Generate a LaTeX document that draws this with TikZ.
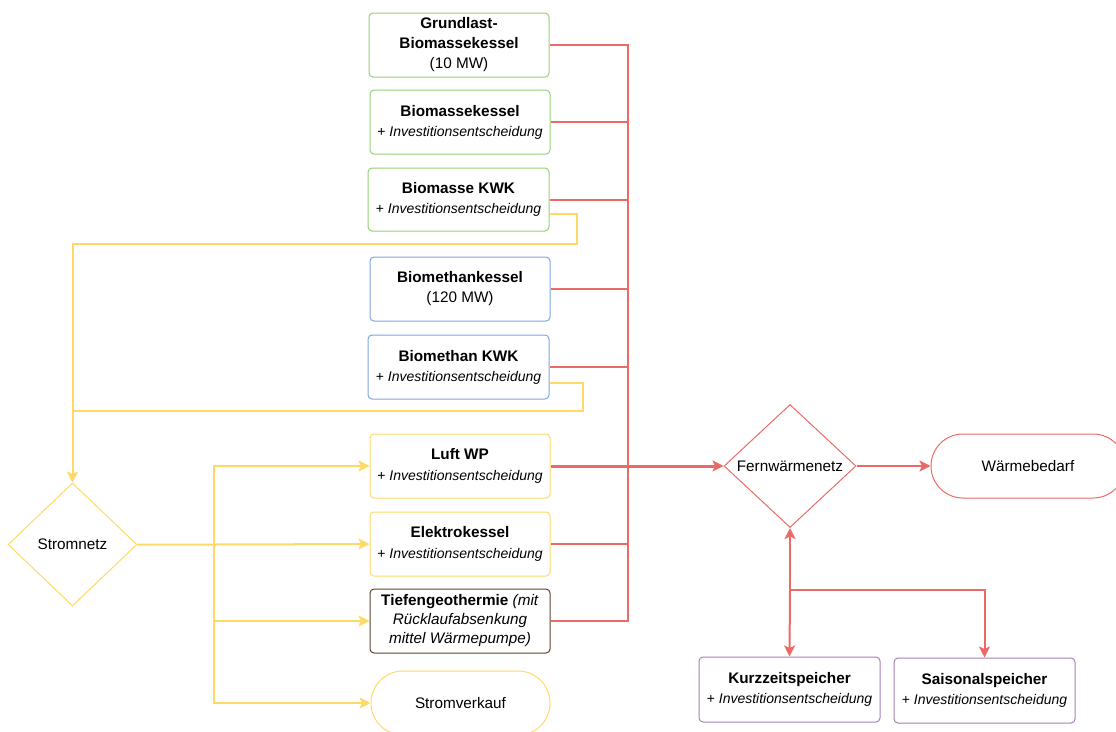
\documentclass[tikz,border=0pt]{standalone}
\usepackage{fontspec}
\setmainfont{Liberation Sans}
\usetikzlibrary{shapes.geometric,arrows.meta}
\definecolor{cgreen}{RGB}{151,208,119}
\definecolor{cblue}{RGB}{126,166,224}
\definecolor{cyellow}{RGB}{255,217,102}
\definecolor{cbrown}{RGB}{92,64,46}
\definecolor{cred}{RGB}{234,107,102}
\definecolor{cpurple}{RGB}{166,128,184}
\newcommand{\invline}{{\fontsize{14}{20}\selectfont + \textit{Investitionsentscheidung}}}
\tikzset{
  box/.style={rectangle, rounded corners=4pt, draw, line width=1pt, minimum width=180pt, minimum height=64pt, inner sep=0pt, align=center, font=\fontsize{15.3}{20}\selectfont},
  sbox/.style={box, font=\fontsize{15.3}{21}\selectfont},
  pill/.style={rectangle, rounded corners=31.9pt, draw, line width=1pt, minimum height=64pt, inner sep=0pt},
  dia/.style={diamond, draw, line width=1pt, inner sep=0pt, align=center},
  tip/.style={-{Stealth[length=11pt,width=11pt,inset=2.5pt]}},
  redline/.style={draw=cred, line width=2pt},
  yline/.style={draw=cyellow, line width=2pt},
}
\begin{document}
\begin{tikzpicture}[x=1pt,y=1pt]
\useasboundingbox (0,0) rectangle (1116,-731);
\clip (0,0) rectangle (1116,-731);
% nodes
\node[box, draw=cgreen] (grund) at (459,-45) {\textbf{Grundlast-}\\\textbf{Biomassekessel}\\(10 MW)};
\node[box, draw=cgreen] (bmk) at (460,-122) {\textbf{Biomassekessel}\\\invline};
\node[box, draw=cgreen, minimum width=181pt, minimum height=63pt] (bkwk) at (458.5,-199.5) {\textbf{Biomasse KWK}\\\invline};
\node[box, draw=cblue] (bmek) at (460,-289) {\textbf{Biomethankessel}\\(120 MW)};
\node[box, draw=cblue, minimum width=181pt] (bmekwk) at (458.5,-367) {\textbf{Biomethan KWK}\\\invline};
\node[sbox, draw=cyellow] (luft) at (460,-466) {\textbf{Luft WP}\\\invline};
\node[sbox, draw=cyellow] (elek) at (460,-544) {\textbf{Elektrokessel}\\\invline};
\node[sbox, draw=cbrown, font=\fontsize{15.3}{19}\selectfont] (tief) at (460,-621) {\textbf{Tiefengeothermie} \textit{(mit}\\\textit{Rücklaufabsenkung}\\\textit{mittel Wärmepumpe)}};
\node[pill, draw=cyellow, minimum width=179pt, font=\fontsize{15.3}{18}\selectfont] (sverk) at (460.5,-703) {Stromverkauf};
\node[dia, draw=cyellow, minimum width=129pt, minimum height=123pt, font=\fontsize{15.3}{18}\selectfont] (strom) at (72.5,-544.5) {Stromnetz};
\node[dia, draw=cred, minimum width=132pt, minimum height=123pt, font=\fontsize{15.3}{18}\selectfont] (fw) at (790,-466) {Fernwärmenetz};
\node[pill, draw=cred, minimum width=194pt, font=\fontsize{15.3}{18}\selectfont] (wb) at (1028,-466) {Wärmebedarf};
\node[box, draw=cpurple, minimum width=181pt, minimum height=65pt] (kurz) at (789.5,-689.5) {\textbf{Kurzzeitspeicher}\\\invline};
\node[box, draw=cpurple, minimum width=181pt, minimum height=65pt] (sais) at (984.5,-690.5) {\textbf{Saisonalspeicher}\\\invline};
% coordinates
\coordinate (trunk) at (628,0);
\coordinate (yb1) at (577,-244);
\coordinate (yb2) at (583,-411);
\coordinate (yj) at (72.5,-411);
\coordinate (sb) at (214,-544.5);
\coordinate (sj) at (790,-590);
% yellow connectors
\draw[yline] ([yshift=-14.5pt]bkwk.east) -| (yb1) -| (yj);
\draw[yline] ([yshift=-16pt]bmekwk.east) -| (yb2) -- (yj);
\draw[yline, tip] (yj) -- (strom.north);
\draw[yline, tip] (strom.east) -- (sb) -- (elek.west);
\draw[yline, tip] (sb) |- (luft.west);
\draw[yline, tip] (sb) |- (tief.west);
\draw[yline, tip] (sb) |- (sverk.west);
% red connectors
\draw[redline] (grund.east) -- (grund.east -| trunk) -- (tief.east -| trunk) -- (tief.east);
\draw[redline] (bmk.east) -- (bmk.east -| trunk);
\draw[redline] (bkwk.east) -- (bkwk.east -| trunk);
\draw[redline] (bmek.east) -- (bmek.east -| trunk);
\draw[redline] (bmekwk.east) -- (bmekwk.east -| trunk);
\draw[redline] (elek.east) -- (elek.east -| trunk);
\draw[redline, line width=3pt, tip] (luft.east) -- (fw.west);
\draw[redline, tip] (fw.east) -- (wb.west);
\draw[redline, tip] (sj) -- (kurz.north);
\draw[redline, tip] (sj) -- (fw.south);
\draw[redline, tip] (sj) -| (sais.north);
\end{tikzpicture}
\end{document}
